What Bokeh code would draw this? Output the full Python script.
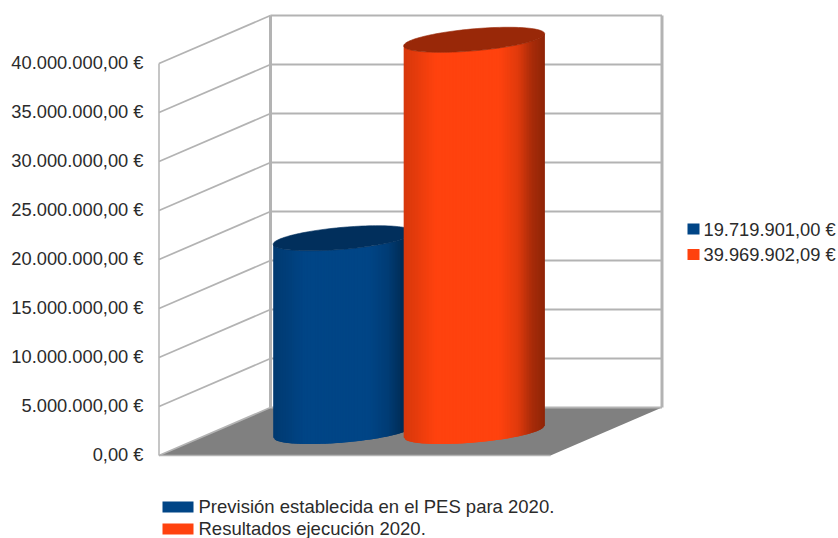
import numpy as np
from bokeh.plotting import figure
from bokeh.models import FixedTicker, Range1d, LinearAxis
from bokeh.core.properties import value
from bokeh.embed import file_html
from bokeh.resources import INLINE

# --- data ---
series_names = ["Previsión establecida en el PES para 2020.", "Resultados ejecución 2020."]
series_values = [19719901.00, 39969902.09]
series_colors = ["#004586", "#ff420e"]
cap_colors = ["#012f5c", "#992808"]
tick_values = [0, 5000000, 10000000, 15000000, 20000000, 25000000, 30000000, 35000000, 40000000]
value_max = 40000000

# --- layout (pixels of the picture) ---
W, H = 838, 538
FONT = "Liberation Sans"
TXT = "#2b2b2b"
GRID = "#b3b3b3"
x0_px, y0_px, top_px = 158.5, 455.0, 63.0
floor_w = 391.5
dx_depth, dy_depth = 111.5, 48.0
k = value_max / (y0_px - top_px)          # euros per pixel
FRAME_LEFT = 150


def ey(py):
    return (y0_px - py) * k


def proj(cat, val, z):
    """cat 0..2 along the floor, val in euros, z 0..1 into the depth."""
    return (x0_px + np.asarray(cat) * floor_w / 2 + np.asarray(z) * dx_depth,
            np.asarray(val) + np.asarray(z) * dy_depth * k)


def fmt(v):
    return f"{v:,.2f}".replace(",", "X").replace(".", ",").replace("X", ".") + " €"


p = figure(width=W, height=H, output_backend="svg", toolbar_location=None,
           x_range=Range1d(FRAME_LEFT, W), y_range=Range1d(ey(H), ey(0)),
           y_axis_location=None,
           min_border_left=FRAME_LEFT, min_border_right=0, min_border_top=0, min_border_bottom=0)
p.outline_line_color = None
p.grid.visible = False
p.xaxis.visible = False
p.background_fill_color = "white"
p.extra_y_ranges = {"labels": Range1d(ey(H + 1), ey(1))}
ax = LinearAxis(y_range_name="labels")
ax.ticker = FixedTicker(ticks=tick_values)
ax.major_label_overrides = {t: fmt(t) for t in tick_values}
ax.axis_line_color = None
ax.major_tick_line_color = None
ax.minor_tick_line_color = None
ax.major_tick_out = 0
ax.major_tick_in = 0
ax.major_label_standoff = 7
ax.major_label_text_font = FONT
ax.major_label_text_font_size = "18.3px"
ax.major_label_text_color = TXT
p.add_layout(ax, "left")

# floor
fx, fy = zip(*[proj(0, 0, 0), proj(2, 0, 0), proj(2, 0, 1), proj(0, 0, 1)])
p.patch(list(fx), list(fy), fill_color="#808080", line_color=None)

# grid on the two walls
gx_l, gy_l, gx_b, gy_b = [], [], [], []
for t in tick_values:
    a, b, c = proj(0, t, 0), proj(0, t, 1), proj(2, t, 1)
    gx_l.append([float(a[0]), float(b[0])]); gy_l.append([float(a[1]), float(b[1])])
    gx_b.append([float(b[0]), float(c[0])]); gy_b.append([float(b[1]), float(c[1])])
p.multi_line(gx_l, gy_l, line_color=GRID, line_width=1.7)
p.multi_line(gx_b, gy_b, line_color=GRID, line_width=2.2)
# wall edges
for cat, z, w in [(0, 0, 1.5), (0, 1, 3), (2, 1, 3)]:
    e0, e1 = proj(cat, 0, z), proj(cat, value_max, z)
    p.line([float(e0[0]), float(e1[0])], [float(e0[1]), float(e1[1])], line_color=GRID, line_width=w)
f0, f1 = proj(0, 0, 0), proj(2, 0, 0)
p.line([float(f0[0]), float(f1[0])], [float(f0[1]), float(f1[1])], line_color=GRID, line_width=1.5)

# cylinders
centres = [2 / 3 - 0.008, 4 / 3 - 0.008]
radius_px, tilt_px, minor_px = 70.5, 6.0, 11.0
n = 90
shade_u = [-1.0, -0.82, -0.55, 0.35, 0.62, 0.82, 1.0]
shade_f = [0.84, 0.90, 1.0, 1.0, 0.88, 0.66, 0.56]


def shaded(col, f):
    c = [int(col[i:i + 2], 16) for i in (1, 3, 5)]
    return "#%02x%02x%02x" % tuple(int(round(min(255, v * f))) for v in c)


for val, cat, col, cap in zip(series_values, centres, series_colors, cap_colors):
    cx, cy0 = proj(cat, 0, 0.5)
    cy1 = cy0 + val
    u = np.linspace(-1, 1, n + 1)
    arc = np.sqrt(np.clip(1 - u ** 2, 0, 1))
    xs = cx + radius_px * u
    slant = tilt_px * k * u
    bottom = cy0 + slant - minor_px * k * arc
    top = cy1 + slant - minor_px * k * arc
    sx, sy, sc = [], [], []
    for i in range(n):
        j = min(i + 2, n)                # overlap the next strip, so no seams show
        sx.append([xs[i], xs[j], xs[j], xs[i]])
        sy.append([bottom[i], bottom[j], top[j], top[i]])
        sc.append(shaded(col, float(np.interp((u[i] + u[i + 1]) / 2, shade_u, shade_f))))
    p.patches(sx, sy, fill_color=sc, line_color=None)
    t = np.linspace(0, 2 * np.pi, 121)
    p.patch(cx + radius_px * np.cos(t),
            cy1 + tilt_px * k * np.cos(t) + minor_px * k * np.sin(t),
            fill_color=cap, line_color=cap, line_width=0.6)

# right-hand legend
for val, col, yc in zip(series_values, series_colors, [228.5, 254]):
    p.quad(left=[687], right=[699], bottom=[ey(yc + 5.5)], top=[ey(yc - 5.5)], fill_color=col, line_color=None)
    p.text([703], [ey(yc)], text=[fmt(val)], text_font=value(FONT), text_font_size="18.3px",
           text_color=TXT, text_baseline="middle", text_align="left")

# bottom legend
for name, col, yc in zip(series_names, series_colors, [506, 528]):
    p.quad(left=[162], right=[193], bottom=[ey(yc + 6)], top=[ey(yc - 5)], fill_color=col, line_color=None)
    p.text([198], [ey(yc)], text=[name], text_font=value(FONT), text_font_size="18.5px",
           text_color=TXT, text_baseline="middle", text_align="left")

open("out.html", "w").write(file_html(p, INLINE))
